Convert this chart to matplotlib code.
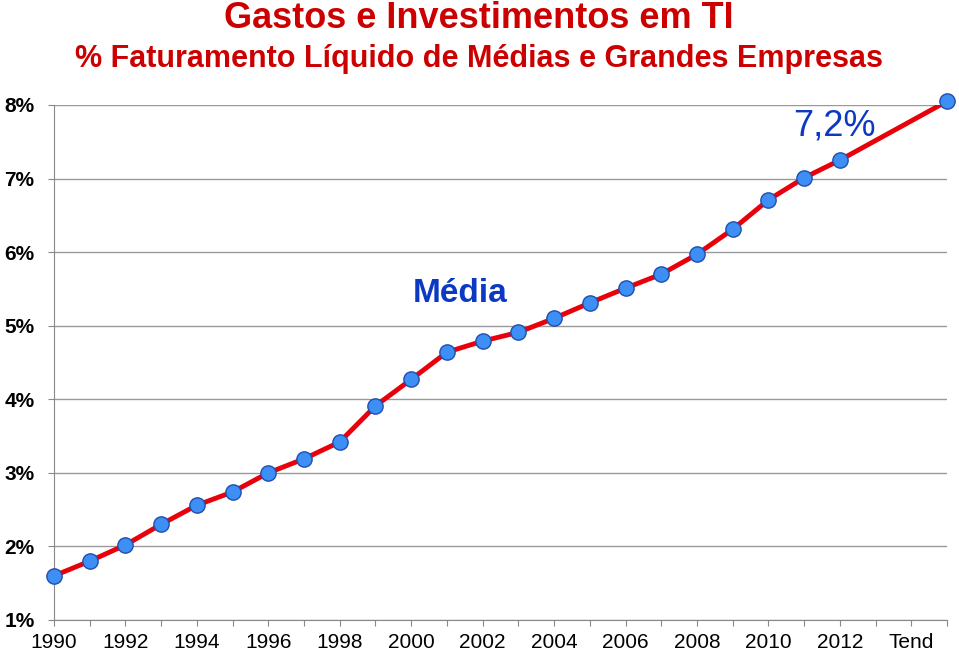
import matplotlib.pyplot as plt
import numpy as np

# ================= Data =================
years = list(range(1990, 2013))
media = [1.60, 1.80, 2.02, 2.30, 2.56, 2.74, 3.00, 3.19, 3.42, 3.91,
         4.27, 4.64, 4.79, 4.91, 5.10, 5.31, 5.51, 5.70, 5.97, 6.31,
         6.71, 7.01, 7.25]
tend_x = 2015
tend_value = 8.05

tick_pos = list(range(1990, 2015, 2))
tick_labels = [str(y) for y in range(1990, 2013, 2)] + ["Tend"]

# ================= Figure =================
plt.rcParams['font.family'] = ['Liberation Sans', 'DejaVu Sans']
fig = plt.figure(figsize=(9.59, 6.54), dpi=100)
ax = fig.add_axes([0.0563, 0.052, 0.9312, 0.7875])

xs = years + [tend_x]
ys = media + [tend_value]
ax.plot(xs, ys, color='#e8000b', lw=3.5, zorder=3, solid_joinstyle='round')
ax.plot(xs, ys, ls='none', marker='o', ms=11, mfc='#3d8ef5',
        mec='#1f4fae', mew=1.0, zorder=4, clip_on=False)

ax.set_xlim(1990, 2015)
ax.set_ylim(1, 8)
ax.set_yticks(range(1, 9))
ax.set_yticklabels([f"{v}%" for v in range(1, 9)], fontsize=15, fontweight='bold')
ax.set_xticks(range(1990, 2016))
ax.set_xticklabels(['' for _ in range(1990, 2016)])
for p, lab in zip(tick_pos, tick_labels):
    ax.text(p, -0.055, lab, transform=ax.get_xaxis_transform(),
            ha='center', va='baseline', fontsize=15)

ax.grid(axis='y', color='#999999', lw=1)
ax.tick_params(axis='y', length=4, color='#888888', pad=10)
ax.tick_params(axis='x', length=4.5, color='#888888', direction='out')
for s in ['top', 'right']:
    ax.spines[s].set_visible(False)
for s in ['left', 'bottom']:
    ax.spines[s].set_color('#888888')

ax.text(2001.37, 5.44, "Média", color='#0b39c4', fontsize=24, fontweight='bold',
        ha='center', va='center')
ax.text(2011.84, 7.72, "7,2%", color='#0b39c4', fontsize=26,
        ha='center', va='center')

narrow = ['Liberation Sans Narrow', 'Liberation Sans']
fig.text(0.4995, 0.972, "Gastos e Investimentos em TI", color='#cc0000',
         fontsize=26, fontweight='bold', ha='center', va='center', family=narrow)
fig.text(0.499, 0.910, "% Faturamento Líquido de Médias e Grandes Empresas",
         color='#cc0000', fontsize=22, fontweight='bold', ha='center',
         va='center', family=narrow)

fig.savefig('out.png', dpi=100)
